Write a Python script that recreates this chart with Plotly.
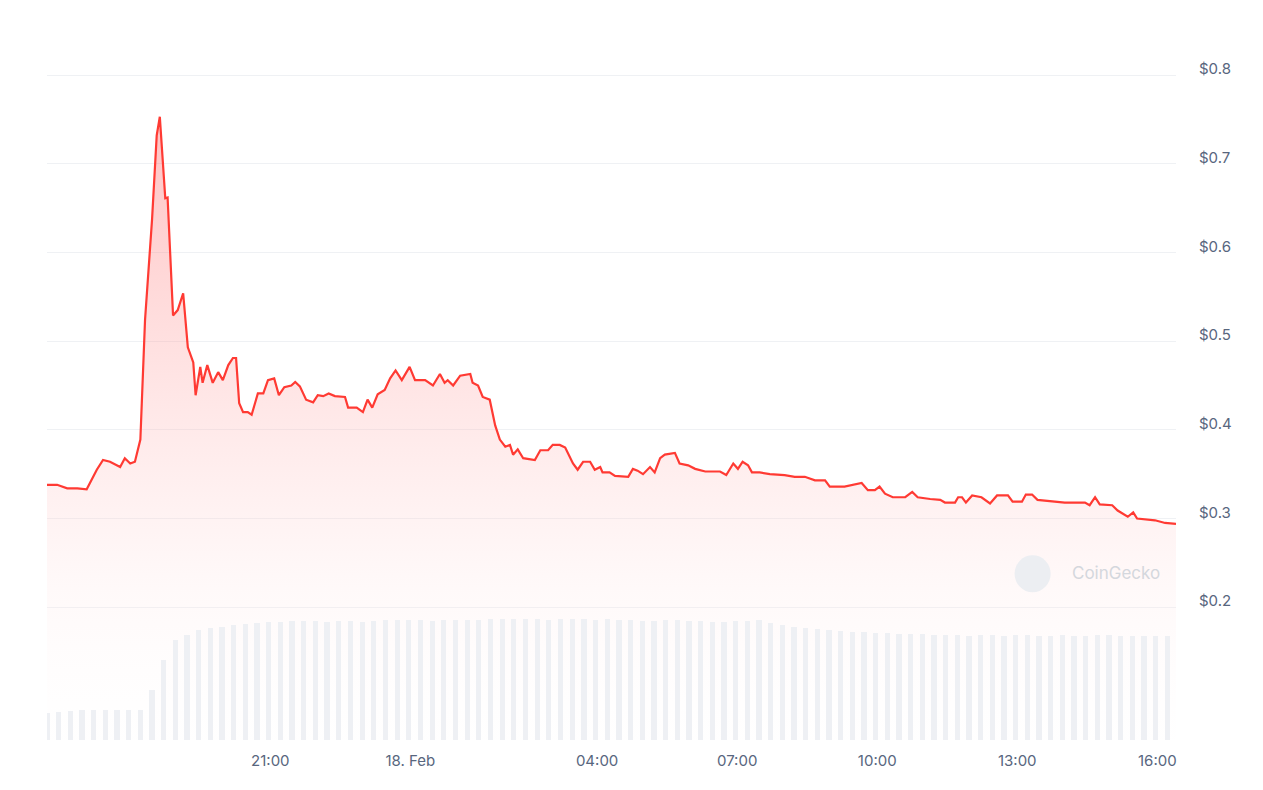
import pandas as pd
import plotly.graph_objects as go

# price samples: minutes after 17 Feb 16:13, price in USD
minutes = [0, 13, 26, 39, 51, 64, 72, 81, 94, 100, 107, 113, 120, 126, 135, 141, 145, 152, 155,
           162, 168, 175, 181, 188, 191, 197, 200, 206, 213, 220, 226, 233, 239, 243, 247, 252,
           258, 263, 271, 278, 284, 292, 298, 305, 314, 319, 325, 333, 342, 348, 355, 362, 370,
           383, 387, 398, 406, 412, 418, 425, 434, 441, 448, 456, 466, 473, 486, 496, 505, 511,
           515, 522, 531, 544, 547, 554, 560, 569, 576, 582, 589, 595, 599, 605, 612, 627, 634,
           644, 650, 659, 666, 676, 682, 689, 698, 704, 711, 714, 723, 730, 747, 753, 759, 766,
           775, 781, 788, 794, 807, 813, 824, 833, 846, 865, 873, 882, 888, 894, 901, 906, 916,
           929, 948, 961, 974, 987, 1000, 1006, 1025, 1038, 1047, 1055, 1064, 1070, 1077, 1087,
           1103, 1112, 1119, 1135, 1148, 1154, 1167, 1171, 1176, 1181, 1189, 1201, 1212, 1221,
           1235, 1241, 1253, 1258, 1266, 1273, 1295, 1308, 1334, 1340, 1347, 1353, 1369, 1376,
           1389, 1396, 1401, 1424, 1437, 1451]
prices = [0.338, 0.338, 0.334, 0.334, 0.333, 0.355, 0.366, 0.364, 0.358, 0.368, 0.362, 0.364,
          0.389, 0.524, 0.637, 0.732, 0.753, 0.661, 0.662, 0.529, 0.535, 0.554, 0.493, 0.476,
          0.439, 0.471, 0.453, 0.473, 0.453, 0.465, 0.456, 0.473, 0.481, 0.481, 0.430, 0.420,
          0.420, 0.417, 0.441, 0.441, 0.456, 0.458, 0.439, 0.448, 0.450, 0.454, 0.449, 0.434,
          0.431, 0.439, 0.438, 0.441, 0.438, 0.437, 0.425, 0.425, 0.420, 0.434, 0.425, 0.440,
          0.445, 0.458, 0.467, 0.456, 0.471, 0.456, 0.456, 0.450, 0.463, 0.453, 0.456, 0.450,
          0.461, 0.463, 0.453, 0.450, 0.437, 0.434, 0.405, 0.389, 0.381, 0.383, 0.372, 0.378,
          0.368, 0.366, 0.377, 0.377, 0.383, 0.383, 0.380, 0.362, 0.355, 0.364, 0.364, 0.355,
          0.358, 0.352, 0.352, 0.348, 0.347, 0.356, 0.354, 0.350, 0.358, 0.352, 0.368, 0.372,
          0.374, 0.362, 0.360, 0.356, 0.353, 0.353, 0.349, 0.362, 0.356, 0.364, 0.360, 0.352,
          0.352, 0.350, 0.349, 0.347, 0.347, 0.343, 0.343, 0.336, 0.336, 0.338, 0.340, 0.332,
          0.332, 0.336, 0.328, 0.324, 0.324, 0.330, 0.324, 0.322, 0.321, 0.318, 0.318, 0.324,
          0.324, 0.318, 0.326, 0.324, 0.317, 0.326, 0.326, 0.319, 0.319, 0.327, 0.327, 0.321,
          0.319, 0.318, 0.318, 0.315, 0.324, 0.316, 0.315, 0.309, 0.302, 0.307, 0.300, 0.298,
          0.295, 0.294]

# volume bars every 15 minutes (relative units)
volumes = [27, 28, 29, 30, 30, 30, 30, 30, 30, 50, 80, 100, 105, 110, 112, 113, 115, 116, 117,
           118, 118, 119, 119, 119, 118, 119, 119, 118, 119, 120, 120, 120, 120, 119, 120, 120,
           120, 120, 121, 121, 121, 121, 121, 120, 121, 121, 121, 120, 121, 120, 120, 119, 119,
           120, 120, 119, 119, 118, 118, 119, 119, 120, 117, 115, 113, 112, 111, 110, 109, 108,
           108, 107, 107, 106, 106, 106, 105, 105, 105, 104, 105, 105, 104, 105, 105, 104, 104,
           105, 104, 104, 105, 105, 104, 104, 104, 104, 104]

start = pd.Timestamp("2025-02-17 16:13")
times = [start + pd.Timedelta(minutes=m) for m in minutes]
vol_times = [start + pd.Timedelta(minutes=15 * i) for i in range(len(volumes))]

tick_vals = [pd.Timestamp("2025-02-17 21:00"), pd.Timestamp("2025-02-18 00:00"),
             pd.Timestamp("2025-02-18 04:00"), pd.Timestamp("2025-02-18 07:00"),
             pd.Timestamp("2025-02-18 10:00"), pd.Timestamp("2025-02-18 13:00"),
             pd.Timestamp("2025-02-18 16:00")]
tick_text = ["21:00", "18. Feb", "04:00", "07:00", "10:00", "13:00", "16:00"]
price_ticks = [0.2, 0.3, 0.4, 0.5, 0.6, 0.7, 0.8]

fig = go.Figure()
fig.add_trace(go.Bar(x=vol_times, y=volumes, yaxis="y2", marker_color="#eef0f4",
                     marker_line_width=0, width=15 * 60 * 1000 * 0.45, hoverinfo="skip"))
fig.add_trace(go.Scatter(
    x=times, y=prices, mode="lines", line=dict(color="#ff3a33", width=2.2),
    fill="tozeroy",
    fillgradient=dict(type="vertical",
                      colorscale=[[0, "rgba(255,255,255,0)"], [0.3, "rgba(255,230,230,0.25)"],
                                  [1, "rgba(255,80,80,0.35)"]]),
))

fig.update_layout(
    width=1263, height=790, showlegend=False, bargap=0,
    plot_bgcolor="white", paper_bgcolor="white",
    margin=dict(l=39, r=95, t=32, b=58),
    font=dict(family="Inter, Roboto, sans-serif", color="#58667e", size=15),
    xaxis=dict(range=[start, start + pd.Timedelta(minutes=1451)], tickvals=tick_vals,
               ticktext=tick_text, showgrid=False, zeroline=False, showline=False,
               ticks="", tickfont=dict(size=15), ticklabelstandoff=10),
    yaxis=dict(side="right", range=[0.0503, 0.8395], tickvals=price_ticks,
               ticktext=[f"${v:g}" for v in price_ticks], showgrid=True,
               gridcolor="#eff1f4", zeroline=False, ticks="", ticklabelstandoff=22,
               ticklabelshift=-6),
    yaxis2=dict(overlaying="y", range=[0, 700], visible=False),
)
fig.add_annotation(x=0.988, y=0.239, xref="paper", yref="paper", text="CoinGecko",
                   showarrow=False, font=dict(size=17, color="#d4d7dd"), xanchor="right",
                   yanchor="middle")
fig.add_shape(type="circle", xref="paper", yref="paper", x0=0.857, x1=0.889, y0=0.211, y1=0.264,
              fillcolor="#eceef2", line_width=0)

fig.write_html("out.html")
